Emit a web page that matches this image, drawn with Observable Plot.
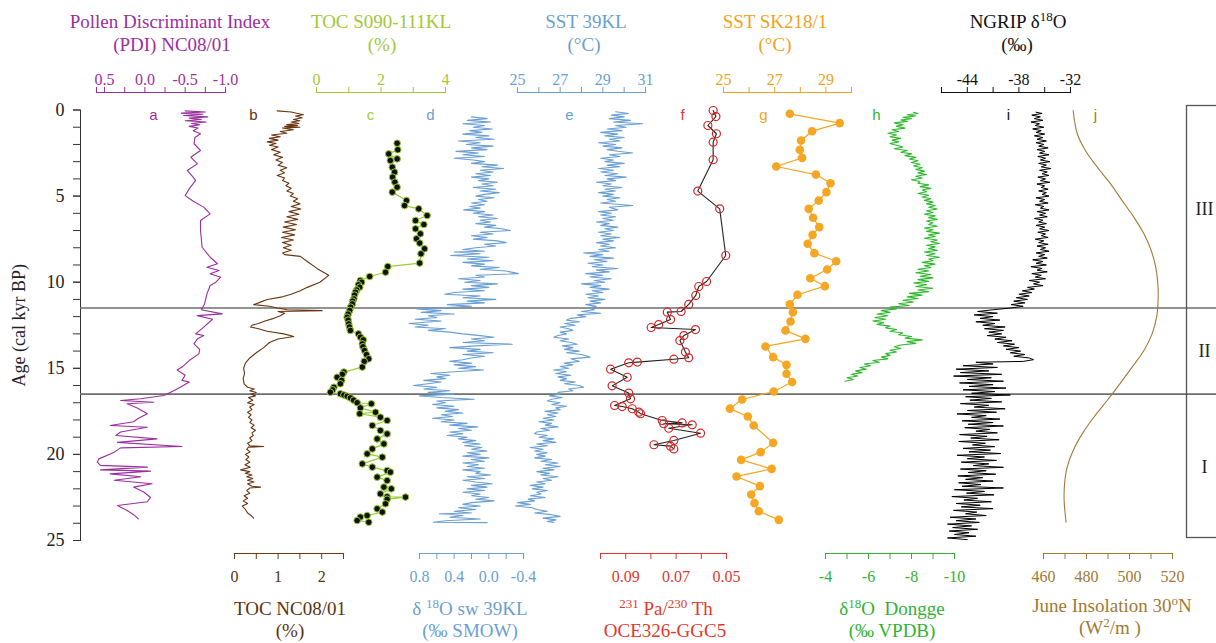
<!DOCTYPE html>
<html><head><meta charset="utf-8">
<script src="https://cdn.jsdelivr.net/npm/d3@7"></script>
<script src="https://cdn.jsdelivr.net/npm/@observablehq/plot@0.6"></script>
<style>
body{margin:0;background:#fff}
#chart{position:relative;width:1216px;height:643px;overflow:hidden}
#chart svg{position:absolute;left:0;top:0}
</style></head><body><div id="chart"></div>
<script>
// ---------------- DATA (age kyr BP, value) ----------------
const pdi = [[0.05,-0.50],[0.12,-0.75],[0.18,-0.45],[0.25,-0.72],[0.32,-0.48],[0.40,-0.78],[0.47,-0.55],[0.55,-0.70],[0.62,-0.50],[0.70,-0.76],[0.78,-0.58],[0.86,-0.68],[0.95,-0.55],[1.05,-0.66],[1.20,-0.60],[1.38,-0.69],[1.60,-0.62],[1.96,-0.61],[2.35,-0.69],[2.74,-0.57],[3.13,-0.65],[3.51,-0.525],[3.80,-0.58],[4.09,-0.63],[4.58,-0.55],[4.97,-0.50],[5.30,-0.60],[5.64,-0.73],[6.03,-0.81],[6.42,-0.69],[7.00,-0.69],[7.97,-0.71],[8.55,-0.81],[8.93,-0.90],[9.13,-0.77],[9.32,-0.92],[9.51,-0.81],[9.71,-0.94],[10.00,-0.88],[10.19,-0.81],[10.68,-0.77],[11.26,-0.74],[11.60,-0.70],[11.84,-0.96],[11.94,-0.65],[12.15,-0.84],[12.61,-0.73],[13.00,-0.63],[13.10,-0.73],[13.30,-0.65],[13.58,-0.61],[13.90,-0.68],[14.16,-0.67],[14.55,-0.55],[14.93,-0.46],[15.10,-0.40],[15.40,-0.50],[15.70,-0.46],[15.80,-0.55],[16.10,-0.44],[16.39,-0.32],[16.58,-0.235],[16.77,0.05],[16.87,0.30],[16.97,-0.11],[17.06,0.22],[17.30,0.095],[17.64,-0.03],[17.90,0.08],[18.10,0.14],[18.32,0.43],[18.42,-0.03],[18.70,0.30],[18.90,0.36],[19.10,-0.15],[19.30,0.34],[19.54,-0.46],[19.62,0.30],[19.87,0.38],[20.26,0.57],[20.45,0.59],[20.64,0.55],[20.74,-0.03],[20.90,0.55],[20.97,-0.07],[21.13,0.43],[21.30,0.05],[21.50,0.38],[21.70,-0.09],[21.90,0.14],[22.20,0.01],[22.50,-0.07],[22.75,-0.03],[22.97,0.34],[23.26,0.22],[23.50,0.14],[23.74,0.08]];

const tocNC = [[0.05,0.98],[0.12,1.30],[0.20,1.45],[0.28,1.58],[0.35,1.40],[0.45,1.55],[0.55,1.35],[0.62,1.50],[0.70,1.30],[0.78,1.48],[0.85,1.20],[0.90,1.45],[0.95,1.15],[1.00,1.50],[1.05,1.10],[1.15,1.35],[1.25,1.05],[1.35,1.20],[1.45,0.85],[1.55,1.05],[1.65,0.80],[1.75,1.00],[1.85,0.75],[1.95,0.95],[2.05,0.80],[2.15,1.00],[2.30,0.85],[2.45,1.05],[2.60,0.90],[2.75,1.10],[2.90,0.95],[3.05,1.10],[3.20,1.00],[3.35,1.20],[3.50,1.05],[3.65,1.15],[3.80,0.98],[3.95,1.15],[4.10,1.10],[4.25,1.25],[4.40,1.18],[4.55,1.30],[4.70,1.20],[4.85,1.35],[5.00,1.28],[5.15,1.45],[5.30,1.35],[5.45,1.50],[5.60,1.30],[5.75,1.52],[5.90,1.25],[6.05,1.48],[6.20,1.20],[6.35,1.45],[6.50,1.15],[6.65,1.42],[6.80,1.12],[6.95,1.40],[7.10,1.10],[7.25,1.38],[7.40,1.08],[7.55,1.35],[7.70,1.10],[7.85,1.30],[8.00,1.12],[8.15,1.30],[8.30,1.10],[8.40,1.15],[8.50,1.51],[8.80,1.67],[9.20,1.89],[9.60,2.16],[10.00,1.96],[10.30,1.67],[10.50,1.51],[10.70,1.30],[10.85,1.10],[11.00,0.75],[11.20,0.55],[11.30,0.44],[11.40,0.80],[11.50,0.98],[11.60,1.21],[11.65,2.01],[11.70,1.00],[11.80,1.15],[11.95,1.05],[12.10,0.90],[12.25,0.70],[12.40,0.55],[12.50,0.40],[12.60,0.37],[12.70,0.55],[12.85,0.75],[13.00,1.13],[13.15,1.36],[13.30,1.00],[13.50,0.80],[13.80,0.67],[14.10,0.50],[14.40,0.35],[14.70,0.25],[15.00,0.21],[15.30,0.23],[15.60,0.20],[15.90,0.22],[16.10,0.30],[16.20,0.45],[16.30,0.35],[16.40,0.50],[16.50,0.38],[16.60,0.48],[16.70,0.32],[16.85,0.42],[17.00,0.30],[17.10,0.45],[17.25,0.35],[17.40,0.40],[17.55,0.30],[17.70,0.38],[17.85,0.32],[18.00,0.40],[18.15,0.35],[18.30,0.45],[18.45,0.38],[18.60,0.48],[18.75,0.40],[18.90,0.43],[19.05,0.35],[19.20,0.40],[19.35,0.30],[19.50,0.35],[19.54,0.67],[19.58,0.32],[19.70,0.28],[19.85,0.36],[20.00,0.25],[20.15,0.33],[20.30,0.26],[20.45,0.35],[20.60,0.24],[20.75,0.36],[20.90,0.14],[21.00,0.35],[21.10,0.25],[21.20,0.40],[21.30,0.28],[21.40,0.42],[21.50,0.30],[21.60,0.45],[21.70,0.30],[21.85,0.40],[21.90,0.60],[21.95,0.35],[22.10,0.28],[22.25,0.35],[22.40,0.22],[22.55,0.30],[22.70,0.20],[22.85,0.30],[23.00,0.18],[23.20,0.25],[23.40,0.30],[23.55,0.38],[23.70,0.44]];

const tocS090 = [[1.93,2.50],[2.31,2.52],[2.55,2.24],[2.84,2.50],[2.93,2.29],[3.32,2.35],[3.61,2.42],[3.90,2.36],[4.19,2.43],[4.48,2.50],[4.77,2.35],[5.26,2.79],[5.55,2.73],[5.74,3.17],[6.13,3.43],[6.42,3.07],[6.65,3.33],[6.90,3.07],[7.19,3.22],[7.48,3.10],[7.73,3.20],[8.06,3.35],[8.35,3.24],[8.89,3.20],[9.09,2.21],[9.42,2.14],[9.67,1.65],[9.90,1.36],[10.00,1.40],[10.15,1.30],[10.29,1.34],[10.45,1.25],[10.58,1.21],[10.75,1.18],[10.97,1.16],[11.10,1.12],[11.26,1.11],[11.45,1.06],[11.64,1.03],[11.85,0.98],[12.03,0.95],[12.20,0.98],[12.42,1.00],[12.60,1.02],[12.80,1.05],[13.00,1.30],[13.19,1.36],[13.35,1.45],[13.58,1.42],[13.75,1.44],[13.97,1.49],[14.20,1.55],[14.45,1.62],[14.60,1.48],[14.93,1.42],[15.22,0.85],[15.35,0.80],[15.52,0.64],[15.70,0.78],[15.90,0.74],[16.10,0.54],[16.25,0.50],[16.39,0.43],[16.48,0.74],[16.55,0.85],[16.62,0.95],[16.72,1.05],[16.85,1.15],[17.00,1.26],[17.06,1.70],[17.30,1.36],[17.55,1.83],[17.64,1.34],[17.84,1.98],[18.03,2.19],[18.32,1.73],[18.61,1.98],[18.81,2.19],[19.10,1.88],[19.39,2.09],[19.68,1.73],[19.97,1.57],[20.16,2.04],[20.55,1.42],[20.74,1.73],[20.94,2.19],[21.03,2.29],[21.32,1.88],[21.52,2.19],[21.90,2.09],[22.00,2.32],[22.29,1.98],[22.46,2.19],[22.48,2.76],[22.60,2.19],[22.87,2.14],[23.16,1.88],[23.35,2.04],[23.55,1.57],[23.64,1.36],[23.84,1.26],[23.94,1.62]];

const d18Osw = [[0.40,0.20],[0.50,0.02],[0.60,0.25],[0.70,-0.02],[0.80,0.30],[0.90,0.05],[1.00,0.18],[1.10,-0.04],[1.20,0.22],[1.30,0.08],[1.40,0.30],[1.50,0.00],[1.60,0.15],[1.70,-0.06],[1.80,0.35],[1.90,0.10],[2.00,0.26],[2.10,-0.05],[2.20,0.20],[2.30,0.02],[2.40,0.38],[2.50,0.12],[2.60,0.30],[2.70,0.05],[2.80,0.40],[2.90,0.18],[3.00,0.05],[3.10,0.20],[3.20,-0.10],[3.30,0.08],[3.40,-0.17],[3.50,0.10],[3.60,-0.05],[3.70,0.15],[3.80,-0.02],[3.90,0.20],[4.00,0.00],[4.10,0.12],[4.20,-0.10],[4.30,0.08],[4.40,-0.05],[4.50,0.18],[4.60,-0.08],[4.70,0.10],[4.80,-0.12],[4.90,0.05],[5.00,0.15],[5.10,-0.06],[5.20,0.12],[5.30,0.02],[5.40,0.20],[5.50,0.05],[5.60,0.22],[5.70,0.10],[5.80,0.29],[5.90,0.05],[6.00,0.18],[6.10,-0.05],[6.20,0.12],[6.30,-0.10],[6.40,0.10],[6.50,-0.02],[6.60,0.15],[6.70,-0.08],[6.80,0.05],[6.90,-0.15],[7.00,-0.25],[7.10,0.10],[7.20,-0.05],[7.30,0.20],[7.40,0.02],[7.50,0.18],[7.60,-0.10],[7.70,-0.20],[7.80,0.05],[7.90,-0.08],[8.00,0.15],[8.10,0.30],[8.20,0.05],[8.25,0.40],[8.35,0.10],[8.45,0.44],[8.55,0.00],[8.65,0.25],[8.75,-0.05],[8.85,0.30],[8.95,0.05],[9.05,0.20],[9.15,-0.12],[9.25,0.10],[9.35,-0.20],[9.50,-0.34],[9.60,0.15],[9.70,0.05],[9.80,0.35],[9.90,0.10],[10.00,0.28],[10.10,-0.10],[10.20,0.20],[10.30,0.00],[10.40,0.30],[10.50,0.05],[10.60,0.40],[10.70,0.51],[10.80,0.10],[10.90,0.30],[11.00,-0.08],[11.10,0.25],[11.20,0.05],[11.30,0.48],[11.40,0.20],[11.50,0.60],[11.55,0.83],[11.65,0.55],[11.75,0.78],[11.85,0.40],[11.95,0.70],[12.05,0.60],[12.15,0.85],[12.25,0.55],[12.40,0.92],[12.50,0.70],[12.60,0.85],[12.70,0.50],[12.80,0.70],[12.90,0.45],[13.00,0.30],[13.10,0.10],[13.20,-0.06],[13.30,0.20],[13.40,0.05],[13.50,0.30],[13.60,-0.27],[13.70,0.15],[13.80,0.45],[13.90,0.10],[14.00,0.25],[14.10,-0.05],[14.20,0.30],[14.30,0.05],[14.40,0.20],[14.50,0.30],[14.60,0.45],[14.70,0.20],[14.80,0.40],[14.90,0.15],[15.00,0.35],[15.10,0.06],[15.20,0.40],[15.30,0.67],[15.40,0.45],[15.50,0.60],[15.60,0.50],[15.70,0.75],[15.80,0.55],[15.90,0.70],[16.00,0.87],[16.10,0.60],[16.20,0.75],[16.30,0.45],[16.40,0.70],[16.50,0.40],[16.60,0.80],[16.70,0.55],[16.80,0.17],[16.90,0.60],[17.00,0.50],[17.10,0.65],[17.20,0.40],[17.30,0.60],[17.40,0.35],[17.50,0.50],[17.60,0.30],[17.70,0.55],[17.80,0.42],[17.90,0.65],[18.00,0.40],[18.10,0.55],[18.20,0.25],[18.30,0.45],[18.40,0.13],[18.50,0.35],[18.60,0.20],[18.70,0.45],[18.80,0.30],[18.90,0.48],[19.00,0.25],[19.10,0.35],[19.20,0.15],[19.30,0.30],[19.40,0.10],[19.50,0.28],[19.60,0.08],[19.70,0.20],[19.80,0.02],[19.90,0.25],[20.00,0.10],[20.10,0.30],[20.20,0.00],[20.30,0.20],[20.40,0.05],[20.50,0.30],[20.60,0.12],[20.70,0.25],[20.80,0.05],[20.90,0.30],[21.00,0.10],[21.10,0.15],[21.20,-0.02],[21.30,0.25],[21.40,0.05],[21.50,0.30],[21.60,0.15],[21.70,-0.04],[21.80,0.20],[21.90,0.02],[22.00,0.25],[22.10,0.05],[22.20,0.30],[22.30,0.10],[22.40,0.20],[22.50,0.00],[22.60,0.15],[22.70,-0.06],[22.80,0.20],[22.90,0.30],[23.00,0.10],[23.10,0.35],[23.20,0.15],[23.30,0.40],[23.40,0.20],[23.45,0.57],[23.55,0.30],[23.65,0.45],[23.75,0.10],[23.85,0.50],[23.94,0.64],[23.96,0.02]];

const sst39 = [[0.10,29.6],[0.20,30.2],[0.30,29.4],[0.40,30.0],[0.50,29.3],[0.60,30.3],[0.70,29.5],[0.80,30.87],[0.90,29.6],[1.00,30.1],[1.10,29.2],[1.20,29.9],[1.30,28.9],[1.40,29.7],[1.50,29.1],[1.60,30.0],[1.70,29.3],[1.80,29.8],[1.90,28.8],[2.00,29.6],[2.10,29.0],[2.20,29.9],[2.30,29.2],[2.40,29.7],[2.50,30.4],[2.60,29.3],[2.70,29.8],[2.80,28.9],[2.90,29.5],[3.00,29.1],[3.10,30.0],[3.20,29.2],[3.30,29.8],[3.40,28.8],[3.50,29.5],[3.60,28.9],[3.70,29.7],[3.80,29.1],[3.90,30.1],[4.00,29.2],[4.10,29.6],[4.20,28.7],[4.30,29.4],[4.40,29.0],[4.50,29.9],[4.60,29.1],[4.70,29.6],[4.80,28.8],[4.90,29.5],[5.00,29.0],[5.10,29.8],[5.20,29.2],[5.30,29.6],[5.40,28.9],[5.55,30.4],[5.65,29.3],[5.80,29.7],[5.90,28.8],[6.00,29.4],[6.10,28.9],[6.20,29.6],[6.30,29.0],[6.40,29.5],[6.50,28.7],[6.60,29.3],[6.70,28.9],[6.80,29.7],[6.90,29.1],[7.00,29.5],[7.10,28.8],[7.20,29.4],[7.30,28.9],[7.40,29.8],[7.50,29.0],[7.60,29.5],[7.70,28.7],[7.80,29.3],[7.90,28.9],[8.00,29.6],[8.10,28.8],[8.20,29.3],[8.30,28.1],[8.40,29.0],[8.50,28.4],[8.60,29.5],[8.70,28.6],[8.80,29.2],[8.90,28.3],[9.00,29.0],[9.10,28.5],[9.20,29.7],[9.30,28.7],[9.40,29.3],[9.50,28.2],[9.60,29.0],[9.70,28.4],[9.80,29.4],[9.90,28.6],[10.00,29.1],[10.10,28.0],[10.20,28.9],[10.30,28.4],[10.40,29.3],[10.50,28.5],[10.60,29.0],[10.70,28.2],[10.80,28.8],[10.90,28.3],[11.00,29.1],[11.10,28.4],[11.20,28.9],[11.30,28.2],[11.40,28.7],[11.50,28.3],[11.60,28.6],[11.70,28.0],[11.80,28.9],[11.90,27.8],[12.00,28.2],[12.10,27.5],[12.20,27.3],[12.30,27.9],[12.40,27.2],[12.50,27.7],[12.60,27.0],[12.70,27.4],[12.80,27.6],[12.90,27.0],[13.00,27.3],[13.10,26.9],[13.20,26.7],[13.30,27.4],[13.40,27.0],[13.50,27.5],[13.60,27.8],[13.70,27.1],[13.80,27.6],[13.90,27.2],[14.00,27.9],[14.10,27.3],[14.20,28.0],[14.35,28.4],[14.45,27.5],[14.60,27.9],[14.70,27.2],[14.80,27.6],[14.90,27.0],[15.00,27.4],[15.10,26.7],[15.20,27.3],[15.30,26.8],[15.40,27.5],[15.50,26.9],[15.60,27.3],[15.70,27.0],[15.80,27.7],[15.90,27.2],[16.00,27.9],[16.10,28.1],[16.20,27.4],[16.30,27.6],[16.40,26.9],[16.50,27.0],[16.60,26.5],[16.70,27.1],[16.80,26.6],[16.90,26.4],[17.00,27.0],[17.10,26.6],[17.20,27.3],[17.30,26.8],[17.40,27.0],[17.50,26.3],[17.60,26.9],[17.70,26.4],[17.80,26.8],[17.90,26.2],[18.00,26.7],[18.10,26.0],[18.20,26.6],[18.30,26.3],[18.40,26.9],[18.50,26.1],[18.60,26.5],[18.70,25.9],[18.80,25.8],[18.90,26.4],[19.00,26.0],[19.10,26.7],[19.20,26.2],[19.30,26.8],[19.40,25.9],[19.50,26.4],[19.60,25.6],[19.70,26.2],[19.80,25.8],[19.90,26.4],[20.00,25.9],[20.10,26.3],[20.20,25.8],[20.30,26.6],[20.40,26.1],[20.50,26.9],[20.60,26.3],[20.70,27.0],[20.80,26.2],[20.90,26.7],[21.00,25.9],[21.10,26.5],[21.20,26.1],[21.30,26.9],[21.40,26.2],[21.50,26.6],[21.60,25.9],[21.70,26.3],[21.80,25.6],[21.90,26.2],[22.00,25.7],[22.10,26.4],[22.20,25.9],[22.30,26.1],[22.40,25.6],[22.50,26.3],[22.60,25.5],[22.70,25.8],[22.80,25.0],[22.90,25.6],[23.00,24.9],[23.10,25.7],[23.20,25.9],[23.30,26.4],[23.40,25.8],[23.50,26.6],[23.60,27.0],[23.70,26.2],[23.80,26.8],[23.90,26.4],[23.95,26.7]];

const paTh = [[0.03,0.0553],[0.38,0.0542],[0.90,0.0574],[1.38,0.0540],[1.87,0.0553],[2.89,0.0553],[4.71,0.0614],[5.74,0.0527],[8.45,0.0503],[9.96,0.0579],[10.25,0.0610],[10.77,0.0622],[11.29,0.0650],[11.70,0.0680],[11.74,0.0735],[12.17,0.0722],[12.46,0.0769],[12.63,0.0799],[12.75,0.0623],[13.10,0.0669],[13.39,0.0685],[14.06,0.0663],[14.39,0.0650],[14.47,0.0709],[14.64,0.0854],[14.68,0.0888],[15.05,0.0960],[15.52,0.0894],[16.02,0.0954],[16.44,0.0888],[16.77,0.0881],[17.16,0.0944],[17.22,0.0914],[17.35,0.0874],[17.55,0.0848],[17.64,0.0841],[18.03,0.0755],[18.17,0.0676],[18.22,0.0749],[18.28,0.0636],[18.48,0.0729],[18.77,0.0603],[19.19,0.0709],[19.44,0.0788],[19.52,0.0722],[19.68,0.0709]];

const sstSK = [[0.22,27.59],[0.76,29.54],[1.23,28.46],[1.77,28.03],[2.31,27.98],[2.78,28.07],[3.28,27.06],[3.75,28.61],[4.25,29.18],[4.77,29.02],[5.26,28.72],[5.74,28.33],[6.26,28.50],[6.80,28.74],[7.25,28.48],[7.77,28.29],[8.31,28.55],[8.78,29.40],[9.26,29.05],[9.77,28.39],[10.23,28.96],[10.73,27.89],[11.29,27.59],[11.74,27.71],[12.28,27.62],[12.80,27.42],[13.29,28.20],[13.73,26.64],[14.35,26.94],[14.80,27.46],[15.32,27.46],[15.80,27.68],[16.35,26.96],[16.81,25.73],[17.34,25.25],[17.80,25.95],[18.32,26.18],[19.33,26.94],[19.87,26.45],[20.32,25.69],[20.84,26.88],[21.28,25.51],[21.84,26.42],[22.33,26.08],[22.83,26.21],[23.30,26.38],[23.80,27.16]];

const d18Odongge = [[0.13,-8.1],[0.20,-8.3],[0.28,-7.8],[0.35,-8.2],[0.42,-7.6],[0.50,-8.0],[0.58,-7.5],[0.66,-7.8],[0.75,-7.2],[0.85,-7.6],[0.95,-7.3],[1.05,-7.7],[1.15,-7.1],[1.25,-7.4],[1.35,-6.9],[1.45,-7.3],[1.55,-7.0],[1.65,-7.5],[1.75,-7.1],[1.85,-7.4],[1.95,-7.0],[2.05,-7.3],[2.15,-7.6],[2.25,-7.2],[2.35,-7.8],[2.45,-7.5],[2.55,-8.0],[2.65,-7.7],[2.75,-8.2],[2.85,-7.9],[2.95,-8.3],[3.05,-8.0],[3.15,-8.4],[3.25,-8.1],[3.35,-8.5],[3.45,-8.2],[3.55,-8.6],[3.65,-8.3],[3.75,-8.7],[3.85,-8.2],[3.95,-8.5],[4.05,-8.0],[4.15,-8.4],[4.25,-8.3],[4.35,-8.8],[4.45,-8.4],[4.55,-8.9],[4.65,-8.5],[4.75,-8.7],[4.85,-8.3],[4.95,-8.8],[5.05,-8.5],[5.15,-8.9],[5.25,-8.6],[5.35,-9.0],[5.45,-8.7],[5.55,-9.1],[5.65,-8.8],[5.75,-9.2],[5.85,-8.7],[5.95,-9.0],[6.05,-8.6],[6.15,-9.1],[6.25,-8.8],[6.35,-9.2],[6.45,-8.7],[6.55,-9.0],[6.65,-8.8],[6.75,-9.2],[6.85,-8.6],[6.95,-9.0],[7.05,-8.7],[7.15,-9.3],[7.25,-8.8],[7.35,-9.1],[7.45,-8.6],[7.55,-9.2],[7.65,-8.9],[7.75,-9.3],[7.85,-8.7],[7.95,-9.1],[8.05,-8.8],[8.15,-9.2],[8.25,-8.6],[8.35,-9.1],[8.45,-8.7],[8.55,-9.3],[8.65,-8.8],[8.75,-9.0],[8.85,-8.5],[8.95,-9.1],[9.05,-8.6],[9.15,-8.9],[9.25,-8.3],[9.35,-8.8],[9.45,-8.2],[9.55,-8.9],[9.65,-8.4],[9.75,-9.0],[9.85,-8.3],[9.95,-8.8],[10.05,-8.1],[10.15,-8.7],[10.25,-8.2],[10.35,-9.0],[10.45,-8.3],[10.55,-8.8],[10.65,-7.9],[10.75,-8.5],[10.85,-7.8],[10.95,-8.3],[11.05,-7.6],[11.15,-8.1],[11.25,-7.4],[11.35,-7.9],[11.45,-7.0],[11.55,-7.3],[11.65,-6.6],[11.75,-7.0],[11.85,-6.4],[11.95,-6.9],[12.05,-6.3],[12.15,-6.8],[12.25,-6.2],[12.35,-6.7],[12.45,-6.4],[12.55,-7.0],[12.65,-6.8],[12.75,-7.3],[12.85,-7.0],[12.95,-7.6],[13.05,-7.4],[13.15,-8.0],[13.25,-7.7],[13.35,-8.5],[13.45,-7.8],[13.55,-8.2],[13.65,-7.5],[13.75,-7.2],[13.85,-7.5],[13.95,-7.0],[14.05,-7.3],[14.15,-6.8],[14.25,-7.0],[14.35,-6.6],[14.45,-6.9],[14.55,-6.2],[14.65,-6.5],[14.75,-5.8],[14.85,-6.1],[14.95,-5.6],[15.05,-5.9],[15.15,-5.4],[15.25,-5.7],[15.35,-5.2],[15.45,-5.5],[15.55,-5.0],[15.65,-5.3],[15.75,-4.9]];

const ngrip = [[0.13,-36.0],[0.2,-35.3],[0.3,-36.5],[0.4,-35.5],[0.5,-36.2],[0.6,-35.2],[0.7,-36.6],[0.8,-35.6],[0.9,-36.1],[1.0,-35.1],[1.1,-36.4],[1.2,-35.4],[1.3,-36.0],[1.4,-35.0],[1.5,-36.2],[1.6,-35.2],[1.7,-35.9],[1.8,-34.8],[1.9,-36.0],[2.0,-35.1],[2.1,-35.7],[2.2,-34.6],[2.3,-35.9],[2.4,-35.0],[2.5,-35.6],[2.6,-34.5],[2.7,-35.8],[2.8,-34.9],[2.9,-35.5],[3.0,-34.4],[3.1,-35.7],[3.2,-34.8],[3.3,-35.4],[3.4,-34.3],[3.5,-35.6],[3.6,-34.7],[3.7,-35.3],[3.8,-34.5],[3.9,-35.8],[4.0,-34.9],[4.1,-35.5],[4.2,-34.4],[4.3,-35.9],[4.4,-35.0],[4.5,-35.4],[4.6,-34.6],[4.7,-35.7],[4.8,-34.8],[4.9,-35.3],[5.0,-34.5],[5.1,-36.0],[5.2,-35.0],[5.3,-35.6],[5.4,-34.6],[5.5,-36.1],[5.6,-35.1],[5.7,-35.5],[5.8,-34.5],[5.9,-35.9],[6.0,-34.9],[6.1,-35.6],[6.2,-34.7],[6.3,-36.2],[6.4,-35.2],[6.5,-35.7],[6.6,-34.8],[6.7,-36.0],[6.8,-35.0],[6.9,-35.6],[7.0,-34.5],[7.1,-35.8],[7.2,-34.9],[7.3,-35.4],[7.4,-34.6],[7.5,-36.1],[7.6,-35.1],[7.7,-35.7],[7.8,-34.6],[7.9,-35.9],[8.0,-34.9],[8.1,-35.5],[8.2,-34.5],[8.3,-36.0],[8.4,-35.0],[8.5,-35.7],[8.6,-34.7],[8.7,-36.4],[8.8,-35.2],[8.9,-36.0],[9.0,-34.8],[9.1,-36.6],[9.2,-35.3],[9.3,-35.9],[9.4,-34.7],[9.5,-36.5],[9.6,-35.4],[9.7,-36.1],[9.8,-34.9],[9.9,-36.8],[10.0,-35.6],[10.1,-36.3],[10.2,-35.2],[10.3,-37.0],[10.4,-36.2],[10.5,-37.6],[10.6,-36.5],[10.7,-38.0],[10.8,-36.8],[10.9,-38.3],[11.0,-37.0],[11.1,-38.6],[11.2,-37.3],[11.3,-38.9],[11.4,-37.5],[11.5,-39.0],[11.6,-41.0],[11.7,-42.8],[11.8,-40.5],[11.9,-43.2],[12.0,-41.0],[12.1,-42.5],[12.2,-40.2],[12.3,-43.0],[12.4,-40.8],[12.5,-42.2],[12.6,-39.6],[12.7,-42.0],[12.8,-39.8],[12.9,-41.5],[13.0,-40.0],[13.1,-41.7],[13.2,-39.5],[13.3,-40.8],[13.4,-38.8],[13.5,-40.5],[13.6,-38.5],[13.7,-39.8],[13.8,-38.0],[13.9,-39.5],[14.0,-37.8],[14.1,-39.0],[14.2,-37.3],[14.3,-38.6],[14.4,-36.8],[14.5,-36.3],[14.6,-37.5],[14.65,-43.0],[14.75,-41.0],[14.85,-44.5],[14.95,-40.5],[15.05,-45.3],[15.15,-41.5],[15.25,-44.8],[15.35,-40.0],[15.45,-45.6],[15.55,-41.2],[15.65,-44.0],[15.75,-39.8],[15.85,-44.9],[15.95,-41.0],[16.05,-43.8],[16.15,-39.5],[16.25,-44.5],[16.35,-40.8],[16.45,-43.5],[16.55,-39.0],[16.65,-44.2],[16.75,-41.2],[16.85,-43.7],[16.95,-40.0],[17.05,-44.8],[17.15,-41.5],[17.25,-43.2],[17.35,-39.6],[17.45,-44.0],[17.55,-40.6],[17.65,-45.2],[17.75,-41.8],[17.85,-43.5],[17.95,-40.2],[18.05,-44.6],[18.15,-41.0],[18.25,-43.9],[18.35,-39.8],[18.45,-44.3],[18.55,-41.4],[18.65,-43.0],[18.75,-40.5],[18.85,-44.9],[18.95,-41.7],[19.05,-43.6],[19.15,-40.3],[19.25,-45.0],[19.35,-41.9],[19.45,-43.4],[19.55,-40.8],[19.65,-44.5],[19.75,-41.3],[19.85,-43.8],[19.95,-40.1],[20.05,-45.2],[20.15,-42.0],[20.25,-44.0],[20.35,-40.6],[20.45,-44.7],[20.55,-41.5],[20.65,-43.3],[20.75,-39.8],[20.85,-44.8],[20.95,-41.8],[21.05,-43.9],[21.15,-40.7],[21.25,-45.1],[21.35,-42.2],[21.45,-44.2],[21.55,-41.0],[21.65,-45.0],[21.75,-42.4],[21.85,-44.6],[21.95,-39.8],[22.05,-45.5],[22.15,-42.0],[22.25,-44.1],[22.35,-40.9],[22.45,-45.8],[22.55,-42.8],[22.65,-44.4],[22.75,-41.2],[22.85,-45.3],[22.95,-42.5],[23.05,-44.7],[23.15,-41.0],[23.25,-45.6],[23.35,-42.9],[23.45,-44.2],[23.55,-41.8],[23.65,-46.0],[23.75,-43.0],[23.85,-45.3],[23.95,-42.6],[24.05,-46.3],[24.15,-43.5],[24.25,-45.7],[24.35,-42.8],[24.45,-46.1],[24.55,-43.8],[24.65,-45.5],[24.75,-43.0],[24.85,-46.3],[24.95,-44.0]];

const insolation = [[0.03,473.8],[1.38,475.7],[2.35,479.5],[3.32,485.0],[4.29,491.2],[5.26,496.6],[6.22,502.0],[7.19,506.7],[8.16,510.1],[9.13,512.2],[10.10,513.2],[11.06,513.3],[12.03,512.6],[13.00,510.5],[13.97,506.7],[14.93,501.2],[15.90,495.5],[16.87,489.6],[17.84,483.4],[18.81,478.0],[19.77,473.8],[20.74,471.0],[21.71,469.8],[22.68,469.6],[23.94,470.5]];

const zoneBounds = [11.5, 16.5];
const zones = [{label:"III", from:0, to:11.5},{label:"II", from:11.5, to:16.5},{label:"I", from:16.5, to:25}];
const ageMajorTicks = [0,5,10,15,20,25];
const ageMinorTicks = [0,1,2,3,4,5,6,7,8,9,10,11,12,13,14,15,16,17,18,19,20,21,22,23,24,25];

// ---------------- LAYOUT ----------------
const W = 1216, H = 643, Y_TOP = 109.5, Y_BOT = 540, TOP_AXIS = 92, BOTTOM_AXIS = 553;
const SERIF = "Liberation Serif, 'Times New Roman', serif";
const SANS = "Liberation Sans, Arial, sans-serif";
const root = document.getElementById("chart");

function addLines(svg, items, color, size) {
  const s = d3.select(svg);
  for (const it of items) {
    const t = s.append("text").attr("x", it.x).attr("y", it.y).attr("text-anchor", "middle")
      .attr("fill", color).attr("font-family", SERIF).attr("font-size", size);
    for (const [str, sup] of it.parts) {
      const ts = t.append("tspan").text(str);
      if (sup) ts.attr("baseline-shift", "super").attr("font-size", Math.round(size * 0.68));
    }
  }
}

const panels = [
  {id:"a", data:pdi, anchor:"top", domain:[0.6,-1.0], px:[96,225], ticks:[0.6,0.5,0.25,0,-0.25,-0.5,-0.75,-1.0], labels:[0.5,0,-0.5,-1.0], fmt:d=>d.toFixed(1),
   color:"#9b2f9e", line:{stroke:"#9b2f9e", strokeWidth:1.1}, letterX:153,
   title:[{x:170,y:28,parts:[["Pollen Discriminant Index"]]},{x:172,y:51,parts:[["(PDI) NC08/01"]]}]},
  {id:"b", data:tocNC, anchor:"bottom", domain:[0,2.5], px:[234,343], ticks:[0,0.5,1,1.5,2,2.5], labels:[0,1,2], fmt:d=>String(d),
   color:"#5a3214", axisColor:"#6e3a14", line:{stroke:"#6b3510", strokeWidth:1.1}, letterX:253,
   title:[{x:290,y:615,parts:[["TOC NC08/01"]]},{x:290,y:637,parts:[["(%)"]]}]},
  {id:"c", data:tocS090, anchor:"top", domain:[0,4], px:[316,445], ticks:[0,1,2,3,4], labels:[0,2,4], fmt:d=>String(d),
   color:"#a2c83a", line:{stroke:"#9acd32", strokeWidth:1.2}, dot:{r:3.3, fill:"#111", stroke:"#9acd32", strokeWidth:1}, letterX:370,
   title:[{x:381,y:28,parts:[["TOC S090-111KL"]]},{x:382,y:51,parts:[["(%)"]]}]},
  {id:"d", data:d18Osw, anchor:"bottom", domain:[0.8,-0.4], px:[419,523], ticks:[0.8,0.6,0.4,0.2,0,-0.2,-0.4], labels:[0.8,0.4,0,-0.4], fmt:d=>d.toFixed(1),
   color:"#6b9fd3", line:{stroke:"#6a9fd4", strokeWidth:1.1}, letterX:430,
   title:[{x:470,y:615,parts:[["δ "],["18",1],["O sw 39KL"]]},{x:470,y:637,parts:[["(‰ SMOW)"]]}]},
  {id:"e", data:sst39, anchor:"top", domain:[25,31], px:[517,645], ticks:[25,26,27,28,29,30,31], labels:[25,27,29,31], fmt:d=>String(d),
   color:"#6b9fd3", line:{stroke:"#6a9fd4", strokeWidth:1.1}, letterX:569,
   title:[{x:586,y:28,parts:[["SST 39KL"]]},{x:584,y:51,parts:[["(°C)"]]}]},
  {id:"f", data:paTh, anchor:"bottom", domain:[0.10,0.05], px:[600,726], ticks:[0.10,0.09,0.08,0.07,0.06,0.05], labels:[0.09,0.07,0.05], fmt:d=>d.toFixed(2),
   color:"#e0382e", line:{stroke:"#222", strokeWidth:1.1}, dot:{r:4, fill:"none", stroke:"#d42424", strokeWidth:1.2}, letterX:682,
   title:[{x:666,y:615,parts:[["231",1],[" Pa/"],["230",1],[" Th"]]},{x:665,y:637,parts:[["OCE326-GGC5"]]}]},
  {id:"g", data:sstSK, anchor:"top", domain:[25,30], px:[723,851], ticks:[25,26,27,28,29,30], labels:[25,27,29], fmt:d=>String(d),
   color:"#f0a21e", line:{stroke:"#f5a623", strokeWidth:1.2}, dot:{r:4.3, fill:"#f5a623"}, letterX:763,
   title:[{x:775,y:28,parts:[["SST SK218/1"]]},{x:775,y:51,parts:[["(°C)"]]}]},
  {id:"h", data:d18Odongge, anchor:"bottom", domain:[-4,-10], px:[825,954], ticks:[-4,-5,-6,-7,-8,-9,-10], labels:[-4,-6,-8,-10], fmt:d=>String(d),
   color:"#33b233", line:{stroke:"#2eb82e", strokeWidth:1.1}, letterX:876,
   title:[{x:892,y:615,parts:[["δ"],["18",1],["O  Dongge"]]},{x:892,y:637,parts:[["(‰ VPDB)"]]}]},
  {id:"i", data:ngrip, anchor:"top", domain:[-47,-32], px:[941,1070], ticks:[-47,-44,-41,-38,-35,-32], labels:[-44,-38,-32], fmt:d=>String(d),
   color:"#111", line:{stroke:"#000", strokeWidth:1}, letterX:1008,
   title:[{x:1018,y:28,parts:[["NGRIP δ"],["18",1],["O"]]},{x:1017,y:51,parts:[["(‰)"]]}]},
  {id:"j", data:insolation, anchor:"bottom", domain:[460,520], px:[1043,1172], ticks:[460,470,480,490,500,510,520], labels:[460,480,500,520], fmt:d=>String(d),
   color:"#9f7a35", line:{stroke:"#a27b36", strokeWidth:1.1, curve:"catmull-rom"}, letterX:1095,
   title:[{x:1112,y:612,parts:[["June Insolation 30"],["o",1],["N"]]},{x:1110,y:634,parts:[["(W"],["2",1],["/m )"]]}]}
];

// ---------------- BASE: age axis, zone lines, zone labels ----------------
const base = Plot.plot({
  width: W, height: H, marginLeft: 80, marginRight: 0, marginTop: Y_TOP, marginBottom: H - Y_BOT,
  y: {domain: [0, 25], range: [Y_TOP, Y_BOT]},
  style: {fontFamily: SERIF, fontSize: "18px", color: "#222", background: "transparent"},
  marks: [
    Plot.frame({anchor: "left", stroke: "#333"}),
    Plot.axisY({ticks: ageMinorTicks, tickSize: 7, tickFormat: () => "", stroke: "#333", label: null}),
    Plot.axisY({ticks: ageMajorTicks, tickSize: 7, tickPadding: 9, stroke: "#333", fill: "#222",
      label: "Age (cal kyr BP)", labelAnchor: "center", labelArrow: "none", labelOffset: 68}),
    Plot.ruleY(zoneBounds, {stroke: "#6e6e6e", strokeWidth: 1.6}),
    Plot.text(zones, {y: d => (d.from + d.to) / 2, text: "label", frameAnchor: "right", dx: -12,
      textAnchor: "middle", fontSize: 18, fill: "#222"})
  ]
});
root.appendChild(base);

const bracket = Plot.plot({
  width: W, height: H, marginLeft: 1186, marginRight: -10, marginTop: 105, marginBottom: H - 537,
  style: {background: "transparent"},
  marks: [Plot.frame({stroke: "#555", strokeWidth: 1.3})]
});
root.appendChild(bracket);

// ---------------- PANELS ----------------
for (const p of panels) {
  const top = p.anchor === "top";
  const mT = top ? TOP_AXIS : 0;
  const mB = top ? 0 : H - BOTTOM_AXIS;
  const rows = p.data.map(([age, v]) => ({age, v}));
  const axisColor = p.axisColor || p.color;
  const marks = [
    Plot.frame({anchor: p.anchor, stroke: axisColor, strokeWidth: 1.2}),
    Plot.axisX({anchor: p.anchor, ticks: p.ticks, tickSize: 6, tickFormat: () => "", stroke: axisColor, label: null}),
    Plot.axisX({anchor: p.anchor, ticks: p.labels, tickSize: 0, tickPadding: top ? 8 : 17, tickFormat: p.fmt,
      fill: p.color, fontSize: 16, label: null}),
    Plot.line(rows, {x: "v", y: "age", ...p.line})
  ];
  if (p.dot) marks.push(Plot.dot(rows, {x: "v", y: "age", ...p.dot}));
  marks.push(Plot.text([p.id], {frameAnchor: "top-left", dx: p.letterX - p.px[0], dy: 115 - mT,
    fill: p.color, fontFamily: SANS, fontSize: 15, textAnchor: "middle", lineAnchor: "middle"}));
  const svg = Plot.plot({
    width: W, height: H, marginLeft: p.px[0], marginRight: W - p.px[1], marginTop: mT, marginBottom: mB,
    x: {domain: p.domain}, y: {domain: [0, 25], range: [Y_TOP, Y_BOT], axis: null},
    style: {fontFamily: SERIF, fontSize: "16px", color: p.color, background: "transparent"},
    marks
  });
  addLines(svg, p.title, p.color, 19);
  root.appendChild(svg);
}
</script></body></html>
